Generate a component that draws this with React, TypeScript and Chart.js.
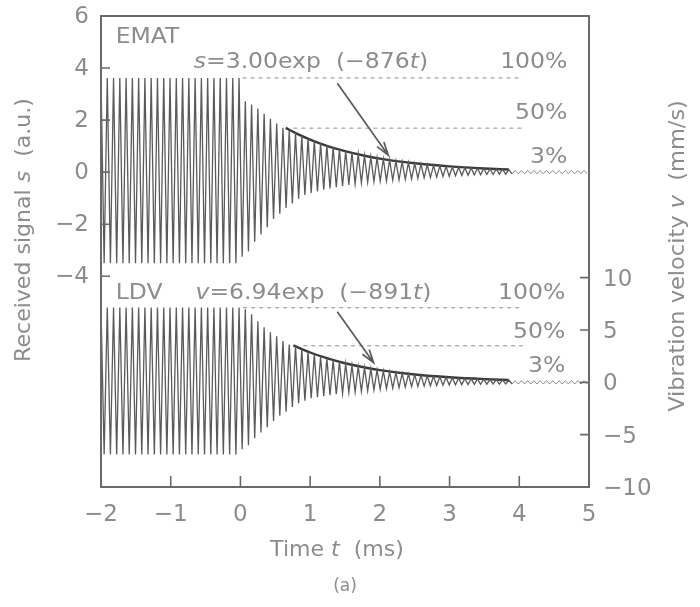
import React, { useEffect, useRef } from 'react';
import { Chart, registerables } from 'chart.js';

Chart.register(...registerables);

// ---- tick labels ----
const X_TICKS = [-2, -1, 0, 1, 2, 3, 4, 5];
const LEFT_TICKS = [6, 4, 2, 0, -2, -4];
const RIGHT_TICKS = [10, 5, 0, -5, -10];

// ---- time base of the sampled traces (ms) ----
const T_START = -2;
const HALF_PERIOD_MS = 0.045;
const STEADY_HALF_CYCLES = 45;
const TAIL_HALF_CYCLES = 24;

// ---- EMAT received signal s (a.u.) ----
const EMAT_STEADY = [3.62, -3.5];
const EMAT_DECAY_BOTTOM = [
  -3.25, -3.05, -2.67, -2.4, -2.12, -1.8, -1.6, -1.38, -1.2, -1.02, -0.88, -0.8, -0.74, -0.68, -0.63,
  -0.58, -0.54, -0.49, -0.45, -0.41, -0.38, -0.36, -0.34, -0.33, -0.31, -0.3, -0.28, -0.26, -0.24,
  -0.22, -0.21, -0.19, -0.17, -0.16, -0.14, -0.13, -0.12, -0.11, -0.1, -0.09, -0.09, -0.08, -0.08, -0.07,
];
const EMAT_DECAY_TOP = [
  2.72, 2.6, 2.44, 2.24, 2.05, 1.87, 1.7, 1.6, 1.5, 1.39, 1.29, 1.2, 1.11, 1.03, 0.95, 0.88, 0.81,
  0.75, 0.69, 0.64, 0.59, 0.55, 0.51, 0.47, 0.43, 0.4, 0.37, 0.34, 0.31, 0.29, 0.26, 0.24, 0.22, 0.2,
  0.19, 0.17, 0.16, 0.15, 0.14, 0.13, 0.12, 0.11, 0.1,
];
const EMAT_TAIL = [0.065, -0.065];
const EMAT_FIT_T = [0.65, 0.8, 1.0, 1.25, 1.5, 1.75, 2.0, 2.5, 3.0, 3.5, 3.85];
const EMAT_FIT_S = [1.7, 1.49, 1.25, 1.0, 0.81, 0.65, 0.52, 0.34, 0.22, 0.14, 0.1];
const EMAT_LEVEL_100 = 3.62;
const EMAT_LEVEL_50 = 1.69;

// ---- LDV vibration velocity v (mm/s) ----
const LDV_STEADY = [7.15, -6.9];
const LDV_DECAY_BOTTOM = [
  -6.4, -6.0, -5.35, -4.8, -4.3, -3.7, -3.2, -2.8, -2.35, -2.0, -1.75, -1.52, -1.42, -1.33, -1.24,
  -1.14, -1.05, -0.96, -0.92, -0.87, -0.8, -0.72, -0.66, -0.6, -0.55, -0.5, -0.46, -0.42, -0.39, -0.36,
  -0.33, -0.3, -0.28, -0.26, -0.24, -0.22, -0.21, -0.2, -0.19, -0.18, -0.17, -0.17, -0.16, -0.16,
];
const LDV_DECAY_TOP = [
  6.97, 6.5, 5.83, 5.25, 4.78, 4.4, 3.95, 3.62, 3.45, 3.15, 2.9, 2.68, 2.47, 2.28, 2.1, 1.94, 1.79,
  1.65, 1.52, 1.4, 1.29, 1.19, 1.1, 1.01, 0.93, 0.86, 0.79, 0.73, 0.67, 0.62, 0.57, 0.53, 0.49, 0.45,
  0.42, 0.38, 0.35, 0.33, 0.3, 0.28, 0.26, 0.24, 0.22,
];
const LDV_TAIL = [0.16, -0.16];
const LDV_FIT_T = [0.76, 1.0, 1.25, 1.5, 1.75, 2.0, 2.5, 3.0, 3.5, 3.85];
const LDV_FIT_V = [3.53, 2.85, 2.28, 1.82, 1.46, 1.17, 0.75, 0.48, 0.307, 0.225];
const LDV_LEVEL_100 = 7.13;
const LDV_LEVEL_50 = 3.49;

const FONT = '"DejaVu Sans", "Noto Sans", sans-serif';
const TEXT_COLOR = '#8c8c8c';
const AXIS_COLOR = '#6a6a6a';
const TRACE_COLOR = '#5a5a5a';

type Pt = { x: number; y: number };

function buildTrace(steady: number[], bottoms: number[], tops: number[], tail: number[]) {
  const main: Pt[] = [];
  let i = 0;
  for (let k = 0; k < STEADY_HALF_CYCLES; k++) {
    main.push({ x: T_START + i * HALF_PERIOD_MS, y: steady[i % 2] });
    i++;
  }
  for (let j = 0; j < bottoms.length; j++) {
    main.push({ x: T_START + i * HALF_PERIOD_MS, y: bottoms[j] });
    i++;
    if (j < tops.length) {
      main.push({ x: T_START + i * HALF_PERIOD_MS, y: tops[j] });
      i++;
    }
  }
  const tailPts: Pt[] = [main[main.length - 1]];
  for (let k = 0; k < TAIL_HALF_CYCLES; k++) {
    tailPts.push({ x: T_START + i * HALF_PERIOD_MS, y: tail[i % 2] });
    i++;
  }
  return { main, tail: tailPts };
}

type Run = { t: string; i?: boolean };

function runsWidth(ctx: CanvasRenderingContext2D, runs: Run[], size: number) {
  let w = 0;
  for (const r of runs) {
    ctx.font = `${r.i ? 'italic ' : ''}${size}px ${FONT}`;
    w += ctx.measureText(r.t).width;
  }
  return w;
}

function drawRuns(
  ctx: CanvasRenderingContext2D,
  runs: Run[],
  x: number,
  y: number,
  size: number,
  align: 'left' | 'right' | 'center',
  stretch = 1,
  rotate = 0
) {
  ctx.save();
  ctx.translate(x, y);
  if (rotate) ctx.rotate(rotate);
  ctx.scale(stretch, 1);
  const w = runsWidth(ctx, runs, size);
  let cx = align === 'left' ? 0 : align === 'right' ? -w : -w / 2;
  ctx.fillStyle = TEXT_COLOR;
  ctx.textBaseline = 'middle';
  ctx.textAlign = 'left';
  for (const r of runs) {
    ctx.font = `${r.i ? 'italic ' : ''}${size}px ${FONT}`;
    ctx.fillText(r.t, cx, 0);
    cx += ctx.measureText(r.t).width;
  }
  ctx.restore();
}

function drawArrow(ctx: CanvasRenderingContext2D, x1: number, y1: number, x2: number, y2: number) {
  const ang = Math.atan2(y2 - y1, x2 - x1);
  const hl = 14;
  const ha = 0.3;
  ctx.save();
  ctx.strokeStyle = '#5a5a5a';
  ctx.lineWidth = 1.7;
  ctx.beginPath();
  ctx.moveTo(x1, y1);
  ctx.lineTo(x2, y2);
  ctx.moveTo(x2 - hl * Math.cos(ang - ha), y2 - hl * Math.sin(ang - ha));
  ctx.lineTo(x2, y2);
  ctx.lineTo(x2 - hl * Math.cos(ang + ha), y2 - hl * Math.sin(ang + ha));
  ctx.stroke();
  ctx.restore();
}

const fmt = (v: number) => (v < 0 ? '−' + Math.abs(v) : String(v));

const decorPlugin = {
  id: 'decor',
  afterDatasetsDraw(chart: any) {
    const ctx: CanvasRenderingContext2D = chart.ctx;
    const a = chart.chartArea;
    const sx = chart.scales.x;
    const sl = chart.scales.yL;
    const sr = chart.scales.yR;

    // frame
    ctx.save();
    ctx.strokeStyle = AXIS_COLOR;
    ctx.lineWidth = 2;
    ctx.strokeRect(a.left, a.top, a.right - a.left, a.bottom - a.top);
    // inward ticks
    ctx.lineWidth = 1.6;
    ctx.beginPath();
    for (const v of X_TICKS) {
      if (v === sx.min || v === sx.max) continue;
      const px = sx.getPixelForValue(v);
      ctx.moveTo(px, a.bottom);
      ctx.lineTo(px, a.bottom - 11);
    }
    for (const v of LEFT_TICKS) {
      if (v === sl.max) continue;
      const py = sl.getPixelForValue(v);
      ctx.moveTo(a.left, py);
      ctx.lineTo(a.left + 9, py);
    }
    for (const v of RIGHT_TICKS) {
      if (v === sr.min) continue;
      const py = sr.getPixelForValue(v);
      ctx.moveTo(a.right, py);
      ctx.lineTo(a.right - 9, py);
    }
    ctx.stroke();
    ctx.restore();

    // tick labels
    const tfs = 23;
    for (const v of X_TICKS) drawRuns(ctx, [{ t: fmt(v) }], sx.getPixelForValue(v), a.bottom + 28, tfs, 'center');
    for (const v of LEFT_TICKS) drawRuns(ctx, [{ t: fmt(v) }], a.left - 12, sl.getPixelForValue(v) + 1, tfs, 'right');
    for (const v of RIGHT_TICKS) drawRuns(ctx, [{ t: fmt(v) }], a.right + 14, sr.getPixelForValue(v) + 2, tfs, 'left');

    const X = (t: number) => sx.getPixelForValue(t);
    const YL = (s: number) => sl.getPixelForValue(s);
    const YR = (v: number) => sr.getPixelForValue(v);

    // arrows
    drawArrow(ctx, X(1.39), YL(3.42), X(2.12), YL(0.65));
    drawArrow(ctx, X(1.39), YR(6.75), X(1.91), YR(1.87));

    const fs = 21;
    const st = 1.12;
    drawRuns(ctx, [{ t: 'EMAT' }], X(-1.79), YL(5.19), fs, 'left', st);
    drawRuns(ctx, [{ t: 's', i: true }, { t: '=3.00exp  (−876' }, { t: 't', i: true }, { t: ')' }], X(-0.67), YL(4.2), fs, 'left', st);
    drawRuns(ctx, [{ t: '100%' }], X(4.69), YL(4.2), fs, 'right', st);
    drawRuns(ctx, [{ t: '50%' }], X(4.69), YL(2.27), fs, 'right', st);
    drawRuns(ctx, [{ t: '3%' }], X(4.69), YL(0.55), fs, 'right', st);

    drawRuns(ctx, [{ t: 'LDV' }], X(-1.79), YR(8.5), fs, 'left', st);
    drawRuns(ctx, [{ t: 'v', i: true }, { t: '=6.94exp  (−891' }, { t: 't', i: true }, { t: ')' }], X(-0.645), YR(8.5), fs, 'left', st);
    drawRuns(ctx, [{ t: '100%' }], X(4.66), YR(8.5), fs, 'right', st);
    drawRuns(ctx, [{ t: '50%' }], X(4.66), YR(4.78), fs, 'right', st);
    drawRuns(ctx, [{ t: '3%' }], X(4.66), YR(1.52), fs, 'right', st);

    // axis titles
    drawRuns(ctx, [{ t: 'Time ' }, { t: 't', i: true }, { t: '  (ms)' }], 337, 551, fs, 'center', 1.05);
    drawRuns(ctx, [{ t: '(a)' }], 345, 587, 17, 'center');
    drawRuns(ctx, [{ t: 'Received signal ' }, { t: 's', i: true }, { t: '  (a.u.)' }], 25, 230, fs, 'center', 1.05, -Math.PI / 2);
    drawRuns(ctx, [{ t: 'Vibration velocity ' }, { t: 'v', i: true }, { t: '  (mm/s)' }], 679, 256, fs, 'center', 1.07, -Math.PI / 2);
  },
};

export default function App() {
  const ref = useRef<HTMLCanvasElement>(null);
  useEffect(() => {
    if (!ref.current) return;
    const emat = buildTrace(EMAT_STEADY, EMAT_DECAY_BOTTOM, EMAT_DECAY_TOP, EMAT_TAIL);
    const ldv = buildTrace(LDV_STEADY, LDV_DECAY_BOTTOM, LDV_DECAY_TOP, LDV_TAIL);
    const line = (data: Pt[], axis: string, color: string, width: number, extra: any = {}) => ({
      data,
      yAxisID: axis,
      borderColor: color,
      borderWidth: width,
      pointRadius: 0,
      fill: false,
      tension: 0,
      ...extra,
    });
    const dashed = { borderDash: [4, 4] };
    const hiddenTicks = { display: false };
    const chart = new Chart(ref.current, {
      type: 'line',
      data: {
        datasets: [
          line([{ x: 0.03, y: EMAT_LEVEL_100 }, { x: 4.05, y: EMAT_LEVEL_100 }], 'yL', '#8f8f8f', 1, dashed),
          line([{ x: 0.76, y: EMAT_LEVEL_50 }, { x: 4.05, y: EMAT_LEVEL_50 }], 'yL', '#8f8f8f', 1, dashed),
          line([{ x: 0.04, y: LDV_LEVEL_100 }, { x: 4.05, y: LDV_LEVEL_100 }], 'yR', '#8f8f8f', 1, dashed),
          line([{ x: 0.9, y: LDV_LEVEL_50 }, { x: 4.05, y: LDV_LEVEL_50 }], 'yR', '#8f8f8f', 1, dashed),
          line(emat.main, 'yL', TRACE_COLOR, 1.3),
          line(emat.tail, 'yL', '#8a8a8a', 1),
          line(ldv.main, 'yR', TRACE_COLOR, 1.3),
          line(ldv.tail, 'yR', '#8a8a8a', 1),
          line(EMAT_FIT_T.map((t, k) => ({ x: t, y: EMAT_FIT_S[k] })), 'yL', '#3a3a3a', 2.4, { cubicInterpolationMode: 'monotone' }),
          line(LDV_FIT_T.map((t, k) => ({ x: t, y: LDV_FIT_V[k] })), 'yR', '#3a3a3a', 2.4, { cubicInterpolationMode: 'monotone' }),
        ],
      },
      options: {
        responsive: false,
        animation: false,
        events: [],
        layout: { padding: { top: 16, left: 0, right: 0, bottom: 0 } },
        plugins: { legend: { display: false }, tooltip: { enabled: false } },
        scales: {
          x: {
            type: 'linear',
            position: 'bottom',
            min: -2,
            max: 5,
            grid: { display: false, drawTicks: false },
            border: { display: false },
            ticks: hiddenTicks,
            afterBuildTicks: (s: any) => { s.ticks = X_TICKS.map((v) => ({ value: v })); },
            afterFit: (s: any) => { s.height = 120; },
          },
          yL: {
            type: 'linear',
            position: 'left',
            min: -12.1,
            max: 6,
            grid: { display: false, drawTicks: false },
            border: { display: false },
            ticks: hiddenTicks,
            afterBuildTicks: (s: any) => { s.ticks = LEFT_TICKS.map((v) => ({ value: v })); },
            afterFit: (s: any) => { s.width = 101; },
          },
          yR: {
            type: 'linear',
            position: 'right',
            min: -10,
            max: 35,
            grid: { display: false, drawTicks: false },
            border: { display: false },
            ticks: hiddenTicks,
            afterBuildTicks: (s: any) => { s.ticks = RIGHT_TICKS.map((v) => ({ value: v })); },
            afterFit: (s: any) => { s.width = 111; },
          },
        },
      },
      plugins: [decorPlugin],
    } as any);
    return () => chart.destroy();
  }, []);
  return (
    <div style={{ position: 'fixed', left: 0, top: 0, width: 700, height: 607, background: '#fff' }}>
      <canvas ref={ref} width={700} height={607} style={{ display: 'block', width: 700, height: 607 }} />
    </div>
  );
}
